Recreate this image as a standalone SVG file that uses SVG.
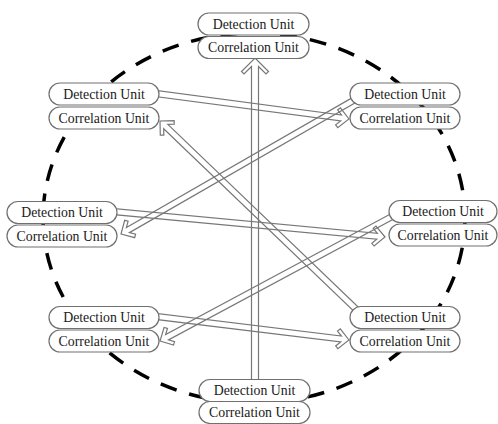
<svg xmlns="http://www.w3.org/2000/svg" width="498" height="424" viewBox="0 0 498 424">
<defs>
<style>
.ring{fill:none;stroke:#000;stroke-width:3.5;stroke-dasharray:17 13}
.arr{fill:none;stroke:#777;stroke-width:1.2;stroke-linejoin:miter}
.pill{fill:#fff;stroke:#707070;stroke-width:1.2}
.lbl{font-family:"Liberation Serif","Times New Roman",serif;font-size:13.8px;fill:#1a1a1a;text-anchor:middle}
</style>
</defs>
<rect width="498" height="424" fill="#fff"/>
<ellipse class="ring" cx="254" cy="218" rx="211" ry="185"/>
<g id="connectors">
<path class="arr" d="M255,58 L268.5,71.5 L266,74 L258.5,66.5 L258.5,386 L251.5,386 L251.5,66.5 L244,74 L241.5,71.5 Z"/>
<path class="arr" transform="translate(349,119) rotate(7.52)" d="M0,0 L-10,-10 L-12.5,-7.5 L-8,-3 L-198.7,-3 L-198.7,3 L-8,3 L-12.5,7.5 L-10,10 Z"/>
<path class="arr" transform="translate(121,234) rotate(150.12)" d="M0,0 L-10,-10 L-12.5,-7.5 L-8,-3 L-271,-3 L-271,3 L-8,3 L-12.5,7.5 L-10,10 Z"/>
<path class="arr" transform="translate(385,237) rotate(5.34)" d="M0,0 L-10,-10 L-12.5,-7.5 L-8,-3 L-274.2,-3 L-274.2,3 L-8,3 L-12.5,7.5 L-10,10 Z"/>
<path class="arr" transform="translate(160,341) rotate(151.81)" d="M0,0 L-10,-10 L-12.5,-7.5 L-8,-3 L-268.9,-3 L-268.9,3 L-8,3 L-12.5,7.5 L-10,10 Z"/>
<path class="arr" transform="translate(349,340) rotate(6.95)" d="M0,0 L-10,-10 L-12.5,-7.5 L-8,-3 L-198.5,-3 L-198.5,3 L-8,3 L-12.5,7.5 L-10,10 Z"/>
<path class="arr" transform="translate(160,121) rotate(-136.17)" d="M0,0 L-10,-10 L-12.5,-7.5 L-8,-3 L-277.3,-3 L-277.3,3 L-8,3 L-12.5,7.5 L-10,10 Z"/>
</g>
<g id="node-top">
<rect class="pill" x="198" y="13" width="111" height="22" rx="11"/>
<text class="lbl" x="253.5" y="28.5">Detection Unit</text>
<rect class="pill" x="198" y="36.5" width="111" height="22" rx="11"/>
<text class="lbl" x="253.5" y="52">Correlation Unit</text>
</g>
<g id="node-upper-left">
<rect class="pill" x="49" y="83" width="110" height="22" rx="11"/>
<text class="lbl" x="104" y="98.5">Detection Unit</text>
<rect class="pill" x="49" y="107" width="110" height="22" rx="11"/>
<text class="lbl" x="104" y="122.5">Correlation Unit</text>
</g>
<g id="node-upper-right">
<rect class="pill" x="350" y="83" width="110" height="22" rx="11"/>
<text class="lbl" x="405" y="98.5">Detection Unit</text>
<rect class="pill" x="350" y="107" width="110" height="22" rx="11"/>
<text class="lbl" x="405" y="122.5">Correlation Unit</text>
</g>
<g id="node-middle-left">
<rect class="pill" x="7" y="201.5" width="110" height="22" rx="11"/>
<text class="lbl" x="62" y="217">Detection Unit</text>
<rect class="pill" x="7" y="225" width="110" height="22" rx="11"/>
<text class="lbl" x="62" y="240.5">Correlation Unit</text>
</g>
<g id="node-middle-right">
<rect class="pill" x="389" y="200.5" width="108" height="22" rx="11"/>
<text class="lbl" x="443" y="216">Detection Unit</text>
<rect class="pill" x="389" y="224" width="108" height="22" rx="11"/>
<text class="lbl" x="443" y="239.5">Correlation Unit</text>
</g>
<g id="node-lower-left">
<rect class="pill" x="49" y="306.5" width="110" height="22" rx="11"/>
<text class="lbl" x="104" y="322">Detection Unit</text>
<rect class="pill" x="49" y="330" width="110" height="22" rx="11"/>
<text class="lbl" x="104" y="345.5">Correlation Unit</text>
</g>
<g id="node-lower-right">
<rect class="pill" x="350" y="306.5" width="110" height="22" rx="11"/>
<text class="lbl" x="405" y="322">Detection Unit</text>
<rect class="pill" x="350" y="330" width="110" height="22" rx="11"/>
<text class="lbl" x="405" y="345.5">Correlation Unit</text>
</g>
<g id="node-bottom">
<rect class="pill" x="199" y="379.5" width="111" height="22" rx="11"/>
<text class="lbl" x="254.5" y="395">Detection Unit</text>
<rect class="pill" x="199" y="401.5" width="111" height="22" rx="11"/>
<text class="lbl" x="254.5" y="417">Correlation Unit</text>
</g>
</svg>
